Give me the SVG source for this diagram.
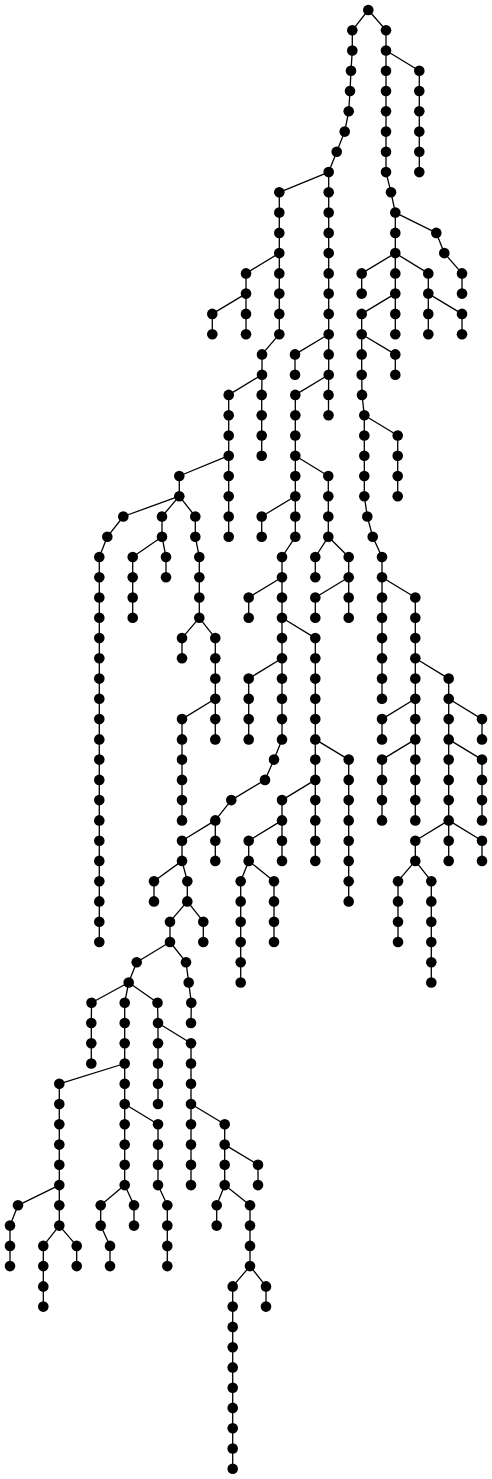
<svg xmlns="http://www.w3.org/2000/svg" width="492" height="1479" viewBox="0 0 492 1479">
<style>
.e{fill:none;stroke:#000;stroke-width:1.3;stroke-linejoin:round}
.n circle{fill:#000;stroke:none}
</style>
<rect width="492" height="1479" fill="#fff"/>
<g id="connectors" class="e">
<polyline points="368.3,10 352.3,30.3 352.3,50.5 351,70.8 350,91 348.7,111.3 344.7,131.6 336.7,151.8 328.7,172.1 328.7,192.3 328.7,212.6 328.7,232.9 328.7,253.1 328.7,273.4 328.7,293.6 328.7,313.9 328.7,334.2 328.7,354.4 328.7,374.7 328.5,394.9 328.5,415.2"/>
<polyline points="368.3,10 386,30.3 386,50.5 386,70.8 386,91 386,111.3 386,131.6 386,151.8 386,172.1 391,192.3 395.3,212.6 395.3,232.9 395.3,253.1 395.3,273.4 395.3,293.6 395.3,313.9 395.3,334.2"/>
<polyline points="386,50.5 419.3,70.8 419.3,91 419.3,111.3 419.3,131.6 419.3,151.8 419.3,172.1"/>
<polyline points="395.3,212.6 436.3,232.9 444.3,253.1 462,273.4 462,293.6"/>
<polyline points="395.3,253.1 361.7,273.4 361.7,293.6"/>
<polyline points="395.3,253.1 428.3,273.4 428.3,293.6 428.3,313.9 428.3,334.2"/>
<polyline points="428.3,293.6 462,313.9 462,334.2"/>
<polyline points="395.3,293.6 361.7,313.9 361.7,334.2 361.7,354.4 361.7,374.7 362,394.9 364.3,415.2 364.3,435.5 364.3,455.7 364.3,476 364.3,496.2 367.3,516.5 372.7,536.8 382,557 382,577.3 382,597.5 382,617.8 382,638.1 382,658.3 382,678.6 382,698.8"/>
<polyline points="361.7,334.2 395.3,354.4 395.3,374.7"/>
<polyline points="364.3,415.2 397.7,435.5 397.7,455.7 397.7,476 397.7,496.2"/>
<polyline points="382,577.3 415.3,597.5 415.3,617.8 415.3,638.1 415.3,658.3 415.3,678.6 415.3,698.8 415.3,719.1 415.3,739.4 415.3,759.6 415.3,779.9 415.3,800.1 415.3,820.4"/>
<polyline points="415.3,698.8 382,719.1 382,739.4"/>
<polyline points="415.3,739.4 382,759.6 382,779.9 382,800.1 382,820.4"/>
<polyline points="415.3,658.3 448.7,678.6 448.7,698.8 448.7,719.1 448.7,739.4 448.7,759.6 448.7,779.9 448.7,800.1 448.7,820.4 448.7,840.7 448.7,860.9"/>
<polyline points="448.7,698.8 482,719.1 482,739.4"/>
<polyline points="448.7,739.4 482,759.6 482,779.9 482,800.1 482,820.4"/>
<polyline points="448.7,820.4 482,840.7 482,860.9"/>
<polyline points="448.7,820.4 415.3,840.7 415.3,860.9 398,881.2 398,901.4 398,921.7 398,942"/>
<polyline points="415.3,860.9 431.3,881.2 431.3,901.4 431.3,921.7 431.3,942 431.3,962.2 431.3,982.5"/>
<polyline points="328.7,172.1 279.3,192.3 279.3,212.6 279.3,232.9 279.3,253.1 279.3,273.4 279.3,293.6 279.3,313.9 279.3,334.2 262,354.4 262,374.7 228.7,394.9 228.7,415.2 228.7,435.5 228.7,455.7 228.7,476 228.7,496.2 228.7,516.5 228.7,536.8"/>
<polyline points="279.3,253.1 246,273.4 246,293.6 246,313.9 246,334.2"/>
<polyline points="246,293.6 212.3,313.9 212.3,334.2"/>
<polyline points="262,374.7 261.7,394.9 261.7,415.2 261.7,435.5 261.7,455.7"/>
<polyline points="328.7,334.2 295,354.4 295,374.7"/>
<polyline points="328.7,374.7 295.3,394.9 295.3,415.2 295.3,435.5 295.3,455.7 295.3,476 295.3,496.2 295.3,516.5 295.3,536.8 282,557 282,577.3 282,597.5 282,617.8 282,638.1 282,658.3 282,678.6 282,698.8 282,719.1 282,739.4 274,759.6 265,779.9 231.3,800.1 215.3,820.4 215.3,840.7 215.3,860.9"/>
<polyline points="295.3,455.7 328.3,476 328.3,496.2 328.3,516.5 328.3,536.8 348.7,557 348.7,577.3 348.7,597.5 348.7,617.8"/>
<polyline points="328.3,536.8 315.3,557 315.3,577.3"/>
<polyline points="348.7,577.3 315.3,597.5 315.3,617.8"/>
<polyline points="295.3,496.2 261.7,516.5 261.7,536.8"/>
<polyline points="282,577.3 248.7,597.5 248.7,617.8"/>
<polyline points="282,617.8 315.3,638.1 315.3,658.3 315.3,678.6 315.3,698.8 315.3,719.1 315.3,739.4 315.3,759.6 315.3,779.9 315.3,800.1 315.3,820.4 315.3,840.7 315.3,860.9"/>
<polyline points="315.3,739.4 348.7,759.6 348.7,779.9 348.7,800.1 348.7,820.4 348.7,840.7 348.7,860.9 348.7,881.2 348.7,901.4"/>
<polyline points="315.3,779.9 282,800.1 282,820.4 282,840.7 282,860.9"/>
<polyline points="282,820.4 248.7,840.7 248.7,860.9 240.7,881.2 240.7,901.4 240.7,921.7 240.7,942 240.7,962.2 240.7,982.5"/>
<polyline points="248.7,860.9 274,881.2 274,901.4 274,921.7 274,942"/>
<polyline points="282,658.3 248.7,678.6 248.7,698.8 248.7,719.1 248.7,739.4"/>
<polyline points="215.3,820.4 182,840.7 182,860.9 187.3,881.2 187.3,901.4 170,921.7 170,942 136.7,962.2 128.7,982.5 124.7,1002.7 124.7,1023 124.7,1043.3 124.7,1063.5 124.7,1083.8 124.7,1104 124.7,1124.3 124.7,1144.6 124.7,1164.8 124.7,1185.1 134,1205.3 134,1225.6"/>
<polyline points="182,860.9 154,881.2 154,901.4"/>
<polyline points="187.3,901.4 203.3,921.7 203.3,942"/>
<polyline points="170,942 186,962.2 188.7,982.5 191.3,1002.7 191,1023"/>
<polyline points="128.7,982.5 91.5,1002.7 91.3,1023 91.3,1043.3 91.3,1063.5"/>
<polyline points="128.7,982.5 157.5,1002.7 158,1023 158,1043.3 158,1063.5 158,1083.8 158,1104"/>
<polyline points="158,1023 191,1043.3 191,1063.5 191,1083.8 191,1104 191,1124.3 191,1144.6 191,1164.8 191,1185.1"/>
<polyline points="124.7,1063.5 59.3,1083.8 59.3,1104 59.3,1124.3 59.3,1144.6 59.3,1164.8 59.3,1185.1 59.3,1205.3 59.3,1225.6 43.3,1245.9 43.3,1266.1 43.3,1286.4 43.3,1306.6"/>
<polyline points="59.3,1185.1 18,1205.3 10,1225.6 10,1245.9 10,1266.1"/>
<polyline points="59.3,1225.6 76.7,1245.9 76.7,1266.1"/>
<polyline points="124.7,1104 158,1124.3 158,1144.6 158,1164.8 158,1185.1 167.3,1205.3 167.3,1225.6 167.3,1245.9 167.3,1266.1"/>
<polyline points="124.7,1185.1 100.7,1205.3 100.7,1225.6 110,1245.9 110,1266.1"/>
<polyline points="191,1104 224.7,1124.3 224.7,1144.6 224.7,1164.8 224.7,1185.1 250,1205.3 250,1225.6 250,1245.9 250,1266.1 232.7,1286.4 232.7,1306.6 232.7,1326.9 232.7,1347.2 232.7,1367.4 232.7,1387.7 232.7,1407.9 232.7,1428.2 232.7,1448.5 232.7,1468.7"/>
<polyline points="224.7,1144.6 258,1164.8 258,1185.1"/>
<polyline points="224.7,1185.1 216.7,1205.3 216.7,1225.6"/>
<polyline points="250,1266.1 266,1286.4 266,1306.6"/>
<polyline points="228.7,455.7 179.3,476 179.3,496.2 195.3,516.5 195.3,536.8 199.3,557 199.3,577.3 199.3,597.5 199.3,617.8 215.3,638.1 215.3,658.3 215.3,678.6 215.3,698.8 215.3,719.1 215.3,739.4"/>
<polyline points="179.3,496.2 123.3,516.5 107.3,536.8 99.3,557 99.3,577.3 99.3,597.5 99.3,617.8 99.3,638.1 99.3,658.3 99.3,678.6 99.3,698.8 99.3,719.1 99.3,739.4 99.3,759.6 99.3,779.9 99.3,800.1 99.3,820.4 99.3,840.7 99.3,860.9 99.3,881.2 99.3,901.4 99.3,921.7 99.3,942"/>
<polyline points="179.3,496.2 162,516.5 162,536.8 132.7,557 132.7,577.3 132.7,597.5 132.7,617.8"/>
<polyline points="162,536.8 166,557 166,577.3"/>
<polyline points="199.3,617.8 182,638.1 182,658.3"/>
<polyline points="215.3,698.8 182,719.1 182,739.4 182,759.6 182,779.9 182,800.1 182,820.4"/>
</g>
<g id="nodes" class="n">
<g id="n0"><circle cx="368.3" cy="10" r="5.3"/></g>
<g id="n1"><circle cx="352.3" cy="30.3" r="5.3"/></g>
<g id="n2"><circle cx="352.3" cy="50.5" r="5.3"/></g>
<g id="n3"><circle cx="351" cy="70.8" r="5.3"/></g>
<g id="n4"><circle cx="350" cy="91" r="5.3"/></g>
<g id="n5"><circle cx="348.7" cy="111.3" r="5.3"/></g>
<g id="n6"><circle cx="344.7" cy="131.6" r="5.3"/></g>
<g id="n7"><circle cx="336.7" cy="151.8" r="5.3"/></g>
<g id="n8"><circle cx="328.7" cy="172.1" r="5.3"/></g>
<g id="n9"><circle cx="386" cy="30.3" r="5.3"/></g>
<g id="n10"><circle cx="386" cy="50.5" r="5.3"/></g>
<g id="n11"><circle cx="386" cy="70.8" r="5.3"/></g>
<g id="n12"><circle cx="419.3" cy="70.8" r="5.3"/></g>
<g id="n13"><circle cx="419.3" cy="91" r="5.3"/></g>
<g id="n14"><circle cx="419.3" cy="111.3" r="5.3"/></g>
<g id="n15"><circle cx="419.3" cy="131.6" r="5.3"/></g>
<g id="n16"><circle cx="419.3" cy="151.8" r="5.3"/></g>
<g id="n17"><circle cx="419.3" cy="172.1" r="5.3"/></g>
<g id="n18"><circle cx="386" cy="91" r="5.3"/></g>
<g id="n19"><circle cx="386" cy="111.3" r="5.3"/></g>
<g id="n20"><circle cx="386" cy="131.6" r="5.3"/></g>
<g id="n21"><circle cx="386" cy="151.8" r="5.3"/></g>
<g id="n22"><circle cx="386" cy="172.1" r="5.3"/></g>
<g id="n23"><circle cx="391" cy="192.3" r="5.3"/></g>
<g id="n24"><circle cx="395.3" cy="212.6" r="5.3"/></g>
<g id="n25"><circle cx="436.3" cy="232.9" r="5.3"/></g>
<g id="n26"><circle cx="444.3" cy="253.1" r="5.3"/></g>
<g id="n27"><circle cx="462" cy="273.4" r="5.3"/></g>
<g id="n28"><circle cx="462" cy="293.6" r="5.3"/></g>
<g id="n29"><circle cx="395.3" cy="232.9" r="5.3"/></g>
<g id="n30"><circle cx="395.3" cy="253.1" r="5.3"/></g>
<g id="n31"><circle cx="361.7" cy="273.4" r="5.3"/></g>
<g id="n32"><circle cx="361.7" cy="293.6" r="5.3"/></g>
<g id="n33"><circle cx="395.3" cy="273.4" r="5.3"/></g>
<g id="n34"><circle cx="395.3" cy="293.6" r="5.3"/></g>
<g id="n35"><circle cx="428.3" cy="273.4" r="5.3"/></g>
<g id="n36"><circle cx="428.3" cy="293.6" r="5.3"/></g>
<g id="n37"><circle cx="428.3" cy="313.9" r="5.3"/></g>
<g id="n38"><circle cx="428.3" cy="334.2" r="5.3"/></g>
<g id="n39"><circle cx="462" cy="313.9" r="5.3"/></g>
<g id="n40"><circle cx="462" cy="334.2" r="5.3"/></g>
<g id="n41"><circle cx="361.7" cy="313.9" r="5.3"/></g>
<g id="n42"><circle cx="395.3" cy="313.9" r="5.3"/></g>
<g id="n43"><circle cx="395.3" cy="334.2" r="5.3"/></g>
<g id="n44"><circle cx="361.7" cy="334.2" r="5.3"/></g>
<g id="n45"><circle cx="395.3" cy="354.4" r="5.3"/></g>
<g id="n46"><circle cx="395.3" cy="374.7" r="5.3"/></g>
<g id="n47"><circle cx="361.7" cy="354.4" r="5.3"/></g>
<g id="n48"><circle cx="361.7" cy="374.7" r="5.3"/></g>
<g id="n49"><circle cx="362" cy="394.9" r="5.3"/></g>
<g id="n50"><circle cx="364.3" cy="415.2" r="5.3"/></g>
<g id="n51"><circle cx="397.7" cy="435.5" r="5.3"/></g>
<g id="n52"><circle cx="397.7" cy="455.7" r="5.3"/></g>
<g id="n53"><circle cx="397.7" cy="476" r="5.3"/></g>
<g id="n54"><circle cx="397.7" cy="496.2" r="5.3"/></g>
<g id="n55"><circle cx="364.3" cy="435.5" r="5.3"/></g>
<g id="n56"><circle cx="364.3" cy="455.7" r="5.3"/></g>
<g id="n57"><circle cx="364.3" cy="476" r="5.3"/></g>
<g id="n58"><circle cx="364.3" cy="496.2" r="5.3"/></g>
<g id="n59"><circle cx="367.3" cy="516.5" r="5.3"/></g>
<g id="n60"><circle cx="372.7" cy="536.8" r="5.3"/></g>
<g id="n61"><circle cx="382" cy="557" r="5.3"/></g>
<g id="n62"><circle cx="382" cy="577.3" r="5.3"/></g>
<g id="n63"><circle cx="382" cy="597.5" r="5.3"/></g>
<g id="n64"><circle cx="382" cy="617.8" r="5.3"/></g>
<g id="n65"><circle cx="382" cy="638.1" r="5.3"/></g>
<g id="n66"><circle cx="382" cy="658.3" r="5.3"/></g>
<g id="n67"><circle cx="382" cy="678.6" r="5.3"/></g>
<g id="n68"><circle cx="382" cy="698.8" r="5.3"/></g>
<g id="n69"><circle cx="415.3" cy="597.5" r="5.3"/></g>
<g id="n70"><circle cx="415.3" cy="617.8" r="5.3"/></g>
<g id="n71"><circle cx="415.3" cy="638.1" r="5.3"/></g>
<g id="n72"><circle cx="415.3" cy="658.3" r="5.3"/></g>
<g id="n73"><circle cx="448.7" cy="678.6" r="5.3"/></g>
<g id="n74"><circle cx="415.3" cy="678.6" r="5.3"/></g>
<g id="n75"><circle cx="415.3" cy="698.8" r="5.3"/></g>
<g id="n76"><circle cx="382" cy="719.1" r="5.3"/></g>
<g id="n77"><circle cx="382" cy="739.4" r="5.3"/></g>
<g id="n78"><circle cx="415.3" cy="719.1" r="5.3"/></g>
<g id="n79"><circle cx="415.3" cy="739.4" r="5.3"/></g>
<g id="n80"><circle cx="382" cy="759.6" r="5.3"/></g>
<g id="n81"><circle cx="382" cy="779.9" r="5.3"/></g>
<g id="n82"><circle cx="382" cy="800.1" r="5.3"/></g>
<g id="n83"><circle cx="382" cy="820.4" r="5.3"/></g>
<g id="n84"><circle cx="415.3" cy="759.6" r="5.3"/></g>
<g id="n85"><circle cx="415.3" cy="779.9" r="5.3"/></g>
<g id="n86"><circle cx="415.3" cy="800.1" r="5.3"/></g>
<g id="n87"><circle cx="415.3" cy="820.4" r="5.3"/></g>
<g id="n88"><circle cx="448.7" cy="698.8" r="5.3"/></g>
<g id="n89"><circle cx="482" cy="719.1" r="5.3"/></g>
<g id="n90"><circle cx="482" cy="739.4" r="5.3"/></g>
<g id="n91"><circle cx="448.7" cy="719.1" r="5.3"/></g>
<g id="n92"><circle cx="448.7" cy="739.4" r="5.3"/></g>
<g id="n93"><circle cx="482" cy="759.6" r="5.3"/></g>
<g id="n94"><circle cx="482" cy="779.9" r="5.3"/></g>
<g id="n95"><circle cx="482" cy="800.1" r="5.3"/></g>
<g id="n96"><circle cx="482" cy="820.4" r="5.3"/></g>
<g id="n97"><circle cx="448.7" cy="759.6" r="5.3"/></g>
<g id="n98"><circle cx="448.7" cy="779.9" r="5.3"/></g>
<g id="n99"><circle cx="448.7" cy="800.1" r="5.3"/></g>
<g id="n100"><circle cx="448.7" cy="820.4" r="5.3"/></g>
<g id="n101"><circle cx="415.3" cy="840.7" r="5.3"/></g>
<g id="n102"><circle cx="415.3" cy="860.9" r="5.3"/></g>
<g id="n103"><circle cx="448.7" cy="840.7" r="5.3"/></g>
<g id="n104"><circle cx="448.7" cy="860.9" r="5.3"/></g>
<g id="n105"><circle cx="482" cy="840.7" r="5.3"/></g>
<g id="n106"><circle cx="482" cy="860.9" r="5.3"/></g>
<g id="n107"><circle cx="398" cy="881.2" r="5.3"/></g>
<g id="n108"><circle cx="398" cy="901.4" r="5.3"/></g>
<g id="n109"><circle cx="398" cy="921.7" r="5.3"/></g>
<g id="n110"><circle cx="398" cy="942" r="5.3"/></g>
<g id="n111"><circle cx="431.3" cy="881.2" r="5.3"/></g>
<g id="n112"><circle cx="431.3" cy="901.4" r="5.3"/></g>
<g id="n113"><circle cx="431.3" cy="921.7" r="5.3"/></g>
<g id="n114"><circle cx="431.3" cy="942" r="5.3"/></g>
<g id="n115"><circle cx="431.3" cy="962.2" r="5.3"/></g>
<g id="n116"><circle cx="431.3" cy="982.5" r="5.3"/></g>
<g id="n117"><circle cx="279.3" cy="192.3" r="5.3"/></g>
<g id="n118"><circle cx="328.7" cy="192.3" r="5.3"/></g>
<g id="n119"><circle cx="328.7" cy="212.6" r="5.3"/></g>
<g id="n120"><circle cx="328.7" cy="232.9" r="5.3"/></g>
<g id="n121"><circle cx="328.7" cy="253.1" r="5.3"/></g>
<g id="n122"><circle cx="328.7" cy="273.4" r="5.3"/></g>
<g id="n123"><circle cx="328.7" cy="293.6" r="5.3"/></g>
<g id="n124"><circle cx="328.7" cy="313.9" r="5.3"/></g>
<g id="n125"><circle cx="328.7" cy="334.2" r="5.3"/></g>
<g id="n126"><circle cx="328.7" cy="354.4" r="5.3"/></g>
<g id="n127"><circle cx="328.7" cy="374.7" r="5.3"/></g>
<g id="n128"><circle cx="328.5" cy="394.9" r="5.3"/></g>
<g id="n129"><circle cx="328.5" cy="415.2" r="5.3"/></g>
<g id="n130"><circle cx="295" cy="354.4" r="5.3"/></g>
<g id="n131"><circle cx="295" cy="374.7" r="5.3"/></g>
<g id="n132"><circle cx="295.3" cy="394.9" r="5.3"/></g>
<g id="n133"><circle cx="295.3" cy="415.2" r="5.3"/></g>
<g id="n134"><circle cx="295.3" cy="435.5" r="5.3"/></g>
<g id="n135"><circle cx="295.3" cy="455.7" r="5.3"/></g>
<g id="n136"><circle cx="295.3" cy="476" r="5.3"/></g>
<g id="n137"><circle cx="295.3" cy="496.2" r="5.3"/></g>
<g id="n138"><circle cx="295.3" cy="516.5" r="5.3"/></g>
<g id="n139"><circle cx="295.3" cy="536.8" r="5.3"/></g>
<g id="n140"><circle cx="328.3" cy="476" r="5.3"/></g>
<g id="n141"><circle cx="328.3" cy="496.2" r="5.3"/></g>
<g id="n142"><circle cx="328.3" cy="516.5" r="5.3"/></g>
<g id="n143"><circle cx="328.3" cy="536.8" r="5.3"/></g>
<g id="n144"><circle cx="261.7" cy="516.5" r="5.3"/></g>
<g id="n145"><circle cx="261.7" cy="536.8" r="5.3"/></g>
<g id="n146"><circle cx="282" cy="557" r="5.3"/></g>
<g id="n147"><circle cx="282" cy="577.3" r="5.3"/></g>
<g id="n148"><circle cx="315.3" cy="557" r="5.3"/></g>
<g id="n149"><circle cx="315.3" cy="577.3" r="5.3"/></g>
<g id="n150"><circle cx="348.7" cy="557" r="5.3"/></g>
<g id="n151"><circle cx="348.7" cy="577.3" r="5.3"/></g>
<g id="n152"><circle cx="315.3" cy="597.5" r="5.3"/></g>
<g id="n153"><circle cx="315.3" cy="617.8" r="5.3"/></g>
<g id="n154"><circle cx="348.7" cy="597.5" r="5.3"/></g>
<g id="n155"><circle cx="348.7" cy="617.8" r="5.3"/></g>
<g id="n156"><circle cx="248.7" cy="597.5" r="5.3"/></g>
<g id="n157"><circle cx="248.7" cy="617.8" r="5.3"/></g>
<g id="n158"><circle cx="282" cy="597.5" r="5.3"/></g>
<g id="n159"><circle cx="282" cy="617.8" r="5.3"/></g>
<g id="n160"><circle cx="315.3" cy="638.1" r="5.3"/></g>
<g id="n161"><circle cx="315.3" cy="658.3" r="5.3"/></g>
<g id="n162"><circle cx="315.3" cy="678.6" r="5.3"/></g>
<g id="n163"><circle cx="315.3" cy="698.8" r="5.3"/></g>
<g id="n164"><circle cx="315.3" cy="719.1" r="5.3"/></g>
<g id="n165"><circle cx="315.3" cy="739.4" r="5.3"/></g>
<g id="n166"><circle cx="315.3" cy="759.6" r="5.3"/></g>
<g id="n167"><circle cx="315.3" cy="779.9" r="5.3"/></g>
<g id="n168"><circle cx="315.3" cy="800.1" r="5.3"/></g>
<g id="n169"><circle cx="315.3" cy="820.4" r="5.3"/></g>
<g id="n170"><circle cx="315.3" cy="840.7" r="5.3"/></g>
<g id="n171"><circle cx="315.3" cy="860.9" r="5.3"/></g>
<g id="n172"><circle cx="348.7" cy="759.6" r="5.3"/></g>
<g id="n173"><circle cx="348.7" cy="779.9" r="5.3"/></g>
<g id="n174"><circle cx="348.7" cy="800.1" r="5.3"/></g>
<g id="n175"><circle cx="348.7" cy="820.4" r="5.3"/></g>
<g id="n176"><circle cx="348.7" cy="840.7" r="5.3"/></g>
<g id="n177"><circle cx="348.7" cy="860.9" r="5.3"/></g>
<g id="n178"><circle cx="348.7" cy="881.2" r="5.3"/></g>
<g id="n179"><circle cx="348.7" cy="901.4" r="5.3"/></g>
<g id="n180"><circle cx="282" cy="800.1" r="5.3"/></g>
<g id="n181"><circle cx="282" cy="820.4" r="5.3"/></g>
<g id="n182"><circle cx="248.7" cy="840.7" r="5.3"/></g>
<g id="n183"><circle cx="248.7" cy="860.9" r="5.3"/></g>
<g id="n184"><circle cx="282" cy="840.7" r="5.3"/></g>
<g id="n185"><circle cx="282" cy="860.9" r="5.3"/></g>
<g id="n186"><circle cx="240.7" cy="881.2" r="5.3"/></g>
<g id="n187"><circle cx="240.7" cy="901.4" r="5.3"/></g>
<g id="n188"><circle cx="240.7" cy="921.7" r="5.3"/></g>
<g id="n189"><circle cx="240.7" cy="942" r="5.3"/></g>
<g id="n190"><circle cx="240.7" cy="962.2" r="5.3"/></g>
<g id="n191"><circle cx="240.7" cy="982.5" r="5.3"/></g>
<g id="n192"><circle cx="274" cy="881.2" r="5.3"/></g>
<g id="n193"><circle cx="274" cy="901.4" r="5.3"/></g>
<g id="n194"><circle cx="274" cy="921.7" r="5.3"/></g>
<g id="n195"><circle cx="274" cy="942" r="5.3"/></g>
<g id="n196"><circle cx="282" cy="638.1" r="5.3"/></g>
<g id="n197"><circle cx="282" cy="658.3" r="5.3"/></g>
<g id="n198"><circle cx="248.7" cy="678.6" r="5.3"/></g>
<g id="n199"><circle cx="248.7" cy="698.8" r="5.3"/></g>
<g id="n200"><circle cx="248.7" cy="719.1" r="5.3"/></g>
<g id="n201"><circle cx="248.7" cy="739.4" r="5.3"/></g>
<g id="n202"><circle cx="282" cy="678.6" r="5.3"/></g>
<g id="n203"><circle cx="282" cy="698.8" r="5.3"/></g>
<g id="n204"><circle cx="282" cy="719.1" r="5.3"/></g>
<g id="n205"><circle cx="282" cy="739.4" r="5.3"/></g>
<g id="n206"><circle cx="274" cy="759.6" r="5.3"/></g>
<g id="n207"><circle cx="265" cy="779.9" r="5.3"/></g>
<g id="n208"><circle cx="231.3" cy="800.1" r="5.3"/></g>
<g id="n209"><circle cx="215.3" cy="820.4" r="5.3"/></g>
<g id="n210"><circle cx="182" cy="840.7" r="5.3"/></g>
<g id="n211"><circle cx="182" cy="860.9" r="5.3"/></g>
<g id="n212"><circle cx="215.3" cy="840.7" r="5.3"/></g>
<g id="n213"><circle cx="215.3" cy="860.9" r="5.3"/></g>
<g id="n214"><circle cx="154" cy="881.2" r="5.3"/></g>
<g id="n215"><circle cx="154" cy="901.4" r="5.3"/></g>
<g id="n216"><circle cx="187.3" cy="881.2" r="5.3"/></g>
<g id="n217"><circle cx="187.3" cy="901.4" r="5.3"/></g>
<g id="n218"><circle cx="170" cy="921.7" r="5.3"/></g>
<g id="n219"><circle cx="170" cy="942" r="5.3"/></g>
<g id="n220"><circle cx="203.3" cy="921.7" r="5.3"/></g>
<g id="n221"><circle cx="203.3" cy="942" r="5.3"/></g>
<g id="n222"><circle cx="136.7" cy="962.2" r="5.3"/></g>
<g id="n223"><circle cx="128.7" cy="982.5" r="5.3"/></g>
<g id="n224"><circle cx="186" cy="962.2" r="5.3"/></g>
<g id="n225"><circle cx="188.7" cy="982.5" r="5.3"/></g>
<g id="n226"><circle cx="191.3" cy="1002.7" r="5.3"/></g>
<g id="n227"><circle cx="191" cy="1023" r="5.3"/></g>
<g id="n228"><circle cx="91.5" cy="1002.7" r="5.3"/></g>
<g id="n229"><circle cx="91.3" cy="1023" r="5.3"/></g>
<g id="n230"><circle cx="91.3" cy="1043.3" r="5.3"/></g>
<g id="n231"><circle cx="91.3" cy="1063.5" r="5.3"/></g>
<g id="n232"><circle cx="124.7" cy="1002.7" r="5.3"/></g>
<g id="n233"><circle cx="124.7" cy="1023" r="5.3"/></g>
<g id="n234"><circle cx="124.7" cy="1043.3" r="5.3"/></g>
<g id="n235"><circle cx="124.7" cy="1063.5" r="5.3"/></g>
<g id="n236"><circle cx="124.7" cy="1083.8" r="5.3"/></g>
<g id="n237"><circle cx="124.7" cy="1104" r="5.3"/></g>
<g id="n238"><circle cx="124.7" cy="1124.3" r="5.3"/></g>
<g id="n239"><circle cx="124.7" cy="1144.6" r="5.3"/></g>
<g id="n240"><circle cx="124.7" cy="1164.8" r="5.3"/></g>
<g id="n241"><circle cx="124.7" cy="1185.1" r="5.3"/></g>
<g id="n242"><circle cx="157.5" cy="1002.7" r="5.3"/></g>
<g id="n243"><circle cx="158" cy="1023" r="5.3"/></g>
<g id="n244"><circle cx="158" cy="1043.3" r="5.3"/></g>
<g id="n245"><circle cx="158" cy="1063.5" r="5.3"/></g>
<g id="n246"><circle cx="158" cy="1083.8" r="5.3"/></g>
<g id="n247"><circle cx="158" cy="1104" r="5.3"/></g>
<g id="n248"><circle cx="191" cy="1043.3" r="5.3"/></g>
<g id="n249"><circle cx="191" cy="1063.5" r="5.3"/></g>
<g id="n250"><circle cx="191" cy="1083.8" r="5.3"/></g>
<g id="n251"><circle cx="191" cy="1104" r="5.3"/></g>
<g id="n252"><circle cx="191" cy="1124.3" r="5.3"/></g>
<g id="n253"><circle cx="191" cy="1144.6" r="5.3"/></g>
<g id="n254"><circle cx="191" cy="1164.8" r="5.3"/></g>
<g id="n255"><circle cx="191" cy="1185.1" r="5.3"/></g>
<g id="n256"><circle cx="59.3" cy="1083.8" r="5.3"/></g>
<g id="n257"><circle cx="59.3" cy="1104" r="5.3"/></g>
<g id="n258"><circle cx="59.3" cy="1124.3" r="5.3"/></g>
<g id="n259"><circle cx="59.3" cy="1144.6" r="5.3"/></g>
<g id="n260"><circle cx="59.3" cy="1164.8" r="5.3"/></g>
<g id="n261"><circle cx="59.3" cy="1185.1" r="5.3"/></g>
<g id="n262"><circle cx="158" cy="1124.3" r="5.3"/></g>
<g id="n263"><circle cx="158" cy="1144.6" r="5.3"/></g>
<g id="n264"><circle cx="158" cy="1164.8" r="5.3"/></g>
<g id="n265"><circle cx="158" cy="1185.1" r="5.3"/></g>
<g id="n266"><circle cx="224.7" cy="1124.3" r="5.3"/></g>
<g id="n267"><circle cx="224.7" cy="1144.6" r="5.3"/></g>
<g id="n268"><circle cx="224.7" cy="1164.8" r="5.3"/></g>
<g id="n269"><circle cx="224.7" cy="1185.1" r="5.3"/></g>
<g id="n270"><circle cx="258" cy="1164.8" r="5.3"/></g>
<g id="n271"><circle cx="258" cy="1185.1" r="5.3"/></g>
<g id="n272"><circle cx="18" cy="1205.3" r="5.3"/></g>
<g id="n273"><circle cx="10" cy="1225.6" r="5.3"/></g>
<g id="n274"><circle cx="10" cy="1245.9" r="5.3"/></g>
<g id="n275"><circle cx="10" cy="1266.1" r="5.3"/></g>
<g id="n276"><circle cx="59.3" cy="1205.3" r="5.3"/></g>
<g id="n277"><circle cx="59.3" cy="1225.6" r="5.3"/></g>
<g id="n278"><circle cx="43.3" cy="1245.9" r="5.3"/></g>
<g id="n279"><circle cx="43.3" cy="1266.1" r="5.3"/></g>
<g id="n280"><circle cx="43.3" cy="1286.4" r="5.3"/></g>
<g id="n281"><circle cx="43.3" cy="1306.6" r="5.3"/></g>
<g id="n282"><circle cx="76.7" cy="1245.9" r="5.3"/></g>
<g id="n283"><circle cx="76.7" cy="1266.1" r="5.3"/></g>
<g id="n284"><circle cx="100.7" cy="1205.3" r="5.3"/></g>
<g id="n285"><circle cx="100.7" cy="1225.6" r="5.3"/></g>
<g id="n286"><circle cx="110" cy="1245.9" r="5.3"/></g>
<g id="n287"><circle cx="110" cy="1266.1" r="5.3"/></g>
<g id="n288"><circle cx="134" cy="1205.3" r="5.3"/></g>
<g id="n289"><circle cx="134" cy="1225.6" r="5.3"/></g>
<g id="n290"><circle cx="167.3" cy="1205.3" r="5.3"/></g>
<g id="n291"><circle cx="167.3" cy="1225.6" r="5.3"/></g>
<g id="n292"><circle cx="167.3" cy="1245.9" r="5.3"/></g>
<g id="n293"><circle cx="167.3" cy="1266.1" r="5.3"/></g>
<g id="n294"><circle cx="216.7" cy="1205.3" r="5.3"/></g>
<g id="n295"><circle cx="216.7" cy="1225.6" r="5.3"/></g>
<g id="n296"><circle cx="250" cy="1205.3" r="5.3"/></g>
<g id="n297"><circle cx="250" cy="1225.6" r="5.3"/></g>
<g id="n298"><circle cx="250" cy="1245.9" r="5.3"/></g>
<g id="n299"><circle cx="250" cy="1266.1" r="5.3"/></g>
<g id="n300"><circle cx="232.7" cy="1286.4" r="5.3"/></g>
<g id="n301"><circle cx="232.7" cy="1306.6" r="5.3"/></g>
<g id="n302"><circle cx="232.7" cy="1326.9" r="5.3"/></g>
<g id="n303"><circle cx="232.7" cy="1347.2" r="5.3"/></g>
<g id="n304"><circle cx="232.7" cy="1367.4" r="5.3"/></g>
<g id="n305"><circle cx="232.7" cy="1387.7" r="5.3"/></g>
<g id="n306"><circle cx="232.7" cy="1407.9" r="5.3"/></g>
<g id="n307"><circle cx="232.7" cy="1428.2" r="5.3"/></g>
<g id="n308"><circle cx="232.7" cy="1448.5" r="5.3"/></g>
<g id="n309"><circle cx="232.7" cy="1468.7" r="5.3"/></g>
<g id="n310"><circle cx="266" cy="1286.4" r="5.3"/></g>
<g id="n311"><circle cx="266" cy="1306.6" r="5.3"/></g>
<g id="n312"><circle cx="279.3" cy="212.6" r="5.3"/></g>
<g id="n313"><circle cx="279.3" cy="232.9" r="5.3"/></g>
<g id="n314"><circle cx="279.3" cy="253.1" r="5.3"/></g>
<g id="n315"><circle cx="279.3" cy="273.4" r="5.3"/></g>
<g id="n316"><circle cx="279.3" cy="293.6" r="5.3"/></g>
<g id="n317"><circle cx="279.3" cy="313.9" r="5.3"/></g>
<g id="n318"><circle cx="279.3" cy="334.2" r="5.3"/></g>
<g id="n319"><circle cx="246" cy="273.4" r="5.3"/></g>
<g id="n320"><circle cx="246" cy="293.6" r="5.3"/></g>
<g id="n321"><circle cx="212.3" cy="313.9" r="5.3"/></g>
<g id="n322"><circle cx="212.3" cy="334.2" r="5.3"/></g>
<g id="n323"><circle cx="246" cy="313.9" r="5.3"/></g>
<g id="n324"><circle cx="246" cy="334.2" r="5.3"/></g>
<g id="n325"><circle cx="262" cy="354.4" r="5.3"/></g>
<g id="n326"><circle cx="262" cy="374.7" r="5.3"/></g>
<g id="n327"><circle cx="261.7" cy="394.9" r="5.3"/></g>
<g id="n328"><circle cx="261.7" cy="415.2" r="5.3"/></g>
<g id="n329"><circle cx="261.7" cy="435.5" r="5.3"/></g>
<g id="n330"><circle cx="261.7" cy="455.7" r="5.3"/></g>
<g id="n331"><circle cx="228.7" cy="394.9" r="5.3"/></g>
<g id="n332"><circle cx="228.7" cy="415.2" r="5.3"/></g>
<g id="n333"><circle cx="228.7" cy="435.5" r="5.3"/></g>
<g id="n334"><circle cx="228.7" cy="455.7" r="5.3"/></g>
<g id="n335"><circle cx="228.7" cy="476" r="5.3"/></g>
<g id="n336"><circle cx="228.7" cy="496.2" r="5.3"/></g>
<g id="n337"><circle cx="228.7" cy="516.5" r="5.3"/></g>
<g id="n338"><circle cx="228.7" cy="536.8" r="5.3"/></g>
<g id="n339"><circle cx="179.3" cy="476" r="5.3"/></g>
<g id="n340"><circle cx="179.3" cy="496.2" r="5.3"/></g>
<g id="n341"><circle cx="123.3" cy="516.5" r="5.3"/></g>
<g id="n342"><circle cx="107.3" cy="536.8" r="5.3"/></g>
<g id="n343"><circle cx="99.3" cy="557" r="5.3"/></g>
<g id="n344"><circle cx="99.3" cy="577.3" r="5.3"/></g>
<g id="n345"><circle cx="99.3" cy="597.5" r="5.3"/></g>
<g id="n346"><circle cx="99.3" cy="617.8" r="5.3"/></g>
<g id="n347"><circle cx="99.3" cy="638.1" r="5.3"/></g>
<g id="n348"><circle cx="99.3" cy="658.3" r="5.3"/></g>
<g id="n349"><circle cx="99.3" cy="678.6" r="5.3"/></g>
<g id="n350"><circle cx="99.3" cy="698.8" r="5.3"/></g>
<g id="n351"><circle cx="99.3" cy="719.1" r="5.3"/></g>
<g id="n352"><circle cx="99.3" cy="739.4" r="5.3"/></g>
<g id="n353"><circle cx="99.3" cy="759.6" r="5.3"/></g>
<g id="n354"><circle cx="99.3" cy="779.9" r="5.3"/></g>
<g id="n355"><circle cx="99.3" cy="800.1" r="5.3"/></g>
<g id="n356"><circle cx="99.3" cy="820.4" r="5.3"/></g>
<g id="n357"><circle cx="99.3" cy="840.7" r="5.3"/></g>
<g id="n358"><circle cx="99.3" cy="860.9" r="5.3"/></g>
<g id="n359"><circle cx="99.3" cy="881.2" r="5.3"/></g>
<g id="n360"><circle cx="99.3" cy="901.4" r="5.3"/></g>
<g id="n361"><circle cx="99.3" cy="921.7" r="5.3"/></g>
<g id="n362"><circle cx="99.3" cy="942" r="5.3"/></g>
<g id="n363"><circle cx="162" cy="516.5" r="5.3"/></g>
<g id="n364"><circle cx="162" cy="536.8" r="5.3"/></g>
<g id="n365"><circle cx="132.7" cy="557" r="5.3"/></g>
<g id="n366"><circle cx="132.7" cy="577.3" r="5.3"/></g>
<g id="n367"><circle cx="132.7" cy="597.5" r="5.3"/></g>
<g id="n368"><circle cx="132.7" cy="617.8" r="5.3"/></g>
<g id="n369"><circle cx="166" cy="557" r="5.3"/></g>
<g id="n370"><circle cx="166" cy="577.3" r="5.3"/></g>
<g id="n371"><circle cx="195.3" cy="516.5" r="5.3"/></g>
<g id="n372"><circle cx="195.3" cy="536.8" r="5.3"/></g>
<g id="n373"><circle cx="199.3" cy="557" r="5.3"/></g>
<g id="n374"><circle cx="199.3" cy="577.3" r="5.3"/></g>
<g id="n375"><circle cx="199.3" cy="597.5" r="5.3"/></g>
<g id="n376"><circle cx="199.3" cy="617.8" r="5.3"/></g>
<g id="n377"><circle cx="182" cy="638.1" r="5.3"/></g>
<g id="n378"><circle cx="182" cy="658.3" r="5.3"/></g>
<g id="n379"><circle cx="215.3" cy="638.1" r="5.3"/></g>
<g id="n380"><circle cx="215.3" cy="658.3" r="5.3"/></g>
<g id="n381"><circle cx="215.3" cy="678.6" r="5.3"/></g>
<g id="n382"><circle cx="215.3" cy="698.8" r="5.3"/></g>
<g id="n383"><circle cx="182" cy="719.1" r="5.3"/></g>
<g id="n384"><circle cx="182" cy="739.4" r="5.3"/></g>
<g id="n385"><circle cx="182" cy="759.6" r="5.3"/></g>
<g id="n386"><circle cx="182" cy="779.9" r="5.3"/></g>
<g id="n387"><circle cx="182" cy="800.1" r="5.3"/></g>
<g id="n388"><circle cx="182" cy="820.4" r="5.3"/></g>
<g id="n389"><circle cx="215.3" cy="719.1" r="5.3"/></g>
<g id="n390"><circle cx="215.3" cy="739.4" r="5.3"/></g>
</g>
</svg>
